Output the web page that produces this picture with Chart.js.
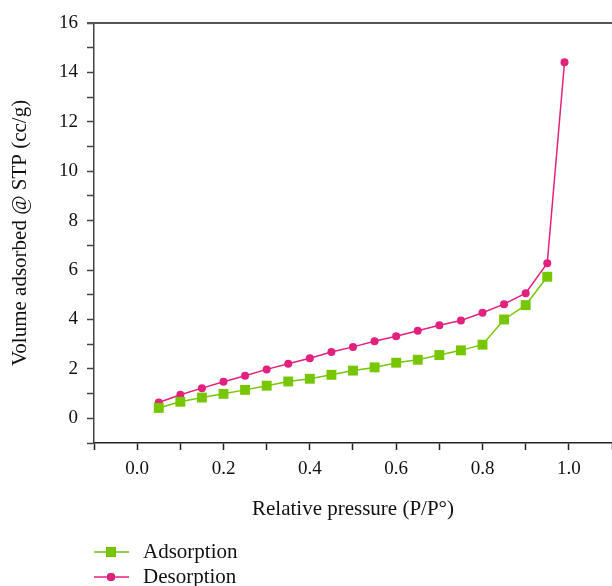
<!DOCTYPE html>
<html>
<head>
<meta charset="utf-8">
<script src="https://cdn.jsdelivr.net/npm/chart.js@4/dist/chart.umd.min.js"></script>
<style>
  html, body { margin: 0; padding: 0; background: #fff; }
  #wrap { width: 612px; height: 586px; }
</style>
</head>
<body>
<div id="wrap"><canvas id="isotherm"></canvas></div>
<script>
// relative pressure P/P0
const adsPressure = [0.05, 0.10, 0.15, 0.20, 0.25, 0.30, 0.35, 0.40, 0.45, 0.50,
  0.55, 0.60, 0.65, 0.70, 0.75, 0.80, 0.85, 0.90, 0.95];
const adsVolume = [0.42, 0.67, 0.84, 0.99, 1.15, 1.32, 1.49, 1.60, 1.76, 1.93,
  2.06, 2.25, 2.37, 2.56, 2.75, 2.98, 4.00, 4.58, 5.73];

const desPressure = [0.05, 0.10, 0.15, 0.20, 0.25, 0.30, 0.35, 0.40, 0.45, 0.50,
  0.55, 0.60, 0.65, 0.70, 0.75, 0.80, 0.85, 0.90, 0.95, 0.99];
const desVolume = [0.64, 0.95, 1.22, 1.48, 1.72, 1.98, 2.21, 2.43, 2.68, 2.89,
  3.12, 3.32, 3.54, 3.77, 3.96, 4.27, 4.62, 5.06, 6.28, 14.41];

const xTickValues = [-0.1, 0.0, 0.1, 0.2, 0.3, 0.4, 0.5, 0.6, 0.7, 0.8, 0.9, 1.0, 1.1];
const xTickLabels = ['', '0.0', '', '0.2', '', '0.4', '', '0.6', '', '0.8', '', '1.0', ''];
const yTickValues = [-1, 0, 1, 2, 3, 4, 5, 6, 7, 8, 9, 10, 11, 12, 13, 14, 15, 16];
const yTickLabels = ['', '0', '', '2', '', '4', '', '6', '', '8', '', '10', '', '12', '', '14', '', '16'];

const GREEN = '#76c600';
const PINK = '#e4207f';
const FONT = '"Liberation Serif", "DejaVu Serif", serif';

function points(xs, ys) {
  return xs.map((x, i) => ({ x, y: ys[i] }));
}

// top frame line + legend below the axis title
const framePlugin = {
  id: 'frameAndLegend',
  afterDraw(chart) {
    const { ctx, chartArea } = chart;
    ctx.save();
    ctx.strokeStyle = '#555';
    ctx.lineWidth = 2;
    ctx.beginPath();
    ctx.moveTo(chartArea.left - 7, chartArea.top);
    ctx.lineTo(chartArea.right, chartArea.top);
    ctx.stroke();

    const x0 = chartArea.left;
    const rows = [chart.height - 34, chart.height - 9];
    chart.data.datasets.forEach((ds, i) => {
      const y = rows[i];
      ctx.strokeStyle = ds.borderColor;
      ctx.lineWidth = 1.5;
      ctx.beginPath();
      ctx.moveTo(x0, y);
      ctx.lineTo(x0 + 35, y);
      ctx.stroke();
      Chart.helpers.drawPoint(ctx, {
        pointStyle: ds.pointStyle,
        radius: ds.pointRadius,
        borderWidth: 0,
      }, x0 + 17, y);
      ctx.fillStyle = ds.pointBackgroundColor;
      ctx.fill();
      ctx.fillStyle = '#111';
      ctx.font = '21px ' + FONT;
      ctx.textBaseline = 'middle';
      ctx.textAlign = 'left';
      ctx.fillText(ds.label, x0 + 49, y);
    });
    ctx.restore();
  }
};

new Chart(document.getElementById('isotherm'), {
  type: 'line',
  data: {
    datasets: [
      {
        label: 'Adsorption',
        data: points(adsPressure, adsVolume),
        borderColor: GREEN,
        backgroundColor: GREEN,
        pointBackgroundColor: GREEN,
        pointBorderWidth: 0,
        pointStyle: 'rect',
        pointRadius: 7,
        borderWidth: 1.5,
        tension: 0,
      },
      {
        label: 'Desorption',
        data: points(desPressure, desVolume),
        borderColor: PINK,
        backgroundColor: PINK,
        pointBackgroundColor: PINK,
        pointBorderWidth: 0,
        pointStyle: 'circle',
        pointRadius: 4,
        borderWidth: 1.5,
        tension: 0,
      },
    ],
  },
  options: {
    responsive: true,
    maintainAspectRatio: false,
    animation: false,
    layout: { autoPadding: false, padding: { top: 23, right: 0, bottom: 64, left: 0 } },
    plugins: {
      legend: { display: false },
      tooltip: { enabled: false },
    },
    scales: {
      x: {
        type: 'linear',
        min: -0.1,
        max: 1.1,
        afterBuildTicks(scale) {
          scale.ticks = xTickValues.map((v) => ({ value: v }));
        },
        afterFit(scale) {
          scale.paddingLeft = 0;
          scale.paddingRight = 0;
        },
        ticks: {
          autoSkip: false,
          maxRotation: 0,
          padding: 8,
          color: '#111',
          font: { family: FONT, size: 19 },
          callback: (v, i) => xTickLabels[i],
        },
        grid: {
          drawOnChartArea: false,
          drawTicks: true,
          tickLength: 7,
          tickColor: '#222',
          tickWidth: 1.5,
        },
        border: { color: '#222', width: 1.5 },
        title: {
          display: true,
          text: 'Relative pressure (P/P°)',
          color: '#111',
          font: { family: FONT, size: 21 },
          padding: { top: 8, bottom: 0 },
        },
      },
      y: {
        type: 'linear',
        min: -1,
        max: 16,
        afterBuildTicks(scale) {
          scale.ticks = yTickValues.map((v) => ({ value: v }));
        },
        afterFit(scale) {
          scale.width = 94;
        },
        ticks: {
          autoSkip: false,
          padding: 9,
          color: '#111',
          font: { family: FONT, size: 19 },
          callback: (v, i) => yTickLabels[i],
        },
        grid: {
          drawOnChartArea: false,
          drawTicks: true,
          tickLength: 7,
          tickColor: '#444',
          tickWidth: 1.5,
        },
        border: { color: '#444', width: 1.5 },
        title: {
          display: true,
          text: 'Volume adsorbed @ STP (cc/g)',
          color: '#111',
          font: { family: FONT, size: 21 },
          padding: { top: 8, bottom: 0 },
        },
      },
    },
  },
  plugins: [framePlugin],
});
</script>
</body>
</html>
